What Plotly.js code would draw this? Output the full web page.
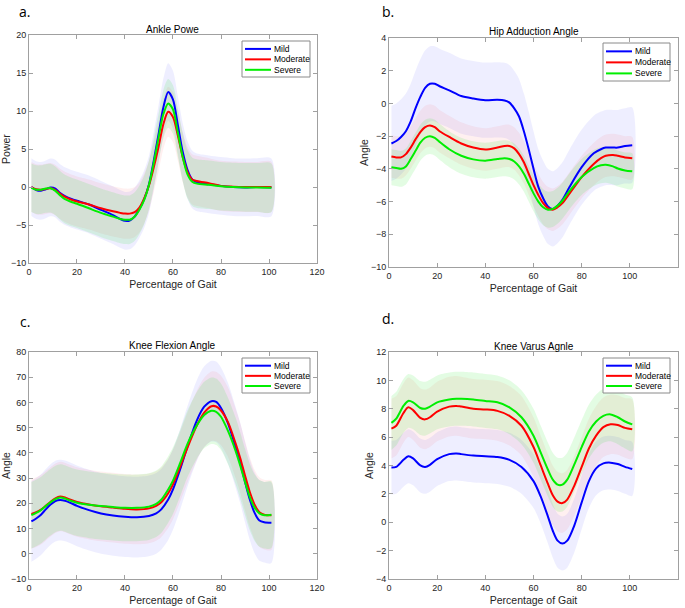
<!DOCTYPE html>
<html>
<head>
<meta charset="utf-8">
<script src="https://cdn.plot.ly/plotly-3.0.1.min.js"></script>
<style>html,body{margin:0;padding:0;background:#fff;}#chart{width:685px;height:608px;}</style>
</head>
<body>
<div id="chart"></div>
<script>
// ---------- data ----------
const seriesNames = ["Mild", "Moderate", "Severe"];
const panelTitles = ["Ankle Powe", "Hip Adduction Angle", "Knee Flexion Angle", "Knee Varus Agnle"];
const panelLabels = ["a.", "b.", "c.", "d."];
const yTitles = ["Power", "Angle", "Angle", "Angle"];
const xTitle = "Percentage of Gait";

// a. Ankle power
const xA = [1,3,5,7,9,11,13,15,18,20,25,30,35,38,40,42,44,46,48,50,52,54,56,58,60,62,64,66,68,70,75,80,85,90,95,101];
const mildA = [0,-0.4,-0.5,-0.3,-0.05,-0.2,-0.8,-1.2,-1.6,-1.8,-2.3,-3.0,-3.7,-4.2,-4.45,-4.4,-3.9,-2.9,-1.6,0.35,3.5,7.0,10.5,12.5,11.5,8.2,4.7,2.3,1.0,0.6,0.35,0.15,0.0,-0.05,0.0,-0.05];
const moderateA = [0,-0.3,-0.35,-0.25,-0.15,-0.4,-0.9,-1.3,-1.7,-1.9,-2.3,-2.8,-3.2,-3.4,-3.5,-3.5,-3.3,-2.7,-1.5,0.2,2.6,5.3,8.3,9.9,9.2,6.8,4.0,2.0,1.0,0.8,0.5,0.15,0.05,0,0,0];
const severeA = [-0.1,-0.35,-0.35,-0.2,-0.15,-0.5,-1.1,-1.6,-2.0,-2.2,-2.8,-3.4,-3.9,-4.2,-4.3,-4.3,-3.9,-3.0,-1.7,0.3,3.2,6.5,9.6,11.0,10.2,7.2,4.0,1.7,0.7,0.45,0.3,0.1,0.0,-0.05,-0.05,-0.1];
const sdA = [3.8, 3.3, 3.2];

// b. Hip adduction angle
const xB = [1,3,5,7,9,11,13,15,17,19,21,25,30,35,40,45,48,50,52,54,56,58,60,62,64,66,68,70,72,75,80,85,88,90,93,95,98,101];
const mildB = [-2.45,-2.3,-2.05,-1.7,-1.1,-0.3,0.4,0.95,1.2,1.2,1.05,0.8,0.45,0.3,0.2,0.22,0.18,0.05,-0.3,-0.8,-1.7,-2.8,-4.0,-5.1,-5.8,-6.3,-6.45,-6.25,-5.9,-5.1,-3.9,-3.05,-2.8,-2.7,-2.7,-2.7,-2.6,-2.55];
const moderateB = [-3.25,-3.3,-3.3,-3.1,-2.7,-2.2,-1.75,-1.45,-1.35,-1.45,-1.7,-2.05,-2.45,-2.7,-2.82,-2.7,-2.6,-2.6,-2.75,-3.1,-3.6,-4.3,-5.0,-5.6,-6.1,-6.4,-6.5,-6.35,-6.1,-5.5,-4.5,-3.7,-3.35,-3.2,-3.15,-3.2,-3.3,-3.35];
const severeB = [-3.9,-3.95,-4.0,-3.85,-3.4,-2.9,-2.4,-2.1,-2.0,-2.1,-2.35,-2.8,-3.2,-3.42,-3.5,-3.4,-3.35,-3.4,-3.55,-3.85,-4.3,-4.9,-5.5,-6.0,-6.35,-6.5,-6.45,-6.25,-5.95,-5.35,-4.5,-3.95,-3.78,-3.75,-3.85,-3.98,-4.1,-4.15];
const sdB = [2.3, 1.3, 1.1];

// c. Knee flexion angle
const xC = [1,3,5,7,9,11,13,15,17,20,25,30,35,40,45,50,53,55,58,60,63,66,70,73,76,78,80,83,86,88,90,92,94,96,98,101];
const mildC = [12.8,14.0,15.5,17.6,19.5,20.9,21.3,21.0,20.3,19.0,17.3,16.0,15.2,14.7,14.5,15.0,16.0,17.5,21.5,25.5,33.5,42.5,53,58.3,60.5,60.2,57.8,51.5,42.5,36,28.5,21.5,16.2,13.2,12.5,12.3];
const moderateC = [15.8,16.5,17.5,19.0,20.6,22.0,22.7,22.3,21.5,20.5,19.5,18.8,18.3,17.8,17.6,18.0,19.0,20.3,24.0,27.5,34.5,42,51,56,58.5,58.4,56.8,52,44,38,31,24.5,19.5,16.5,15.5,15.3];
const severeC = [15.3,16.2,17.3,18.9,20.4,21.7,22.3,21.9,21.1,20.2,19.4,18.9,18.5,18.2,18.2,18.7,19.8,21.3,25.5,29.0,36.0,43.5,51.0,55.0,56.7,56.3,54.3,48.5,41,35,28.5,22.5,18.3,16,15.3,15.5];
const sdC = [16, 13.8, 13.2];

// d. Knee varus angle
const xD = [1,3,6,8,10,13,15,17,20,25,28,30,35,40,45,50,55,60,63,66,68,70,72,74,77,80,83,86,89,92,95,98,101];
const mildD = [3.85,3.9,4.4,4.65,4.5,4.0,3.9,4.05,4.45,4.8,4.85,4.8,4.7,4.65,4.6,4.4,3.9,2.9,1.8,0.4,-0.6,-1.3,-1.5,-1.3,-0.2,1.4,2.9,3.8,4.15,4.2,4.1,3.9,3.75];
const moderateD = [6.6,6.8,7.7,8.1,7.9,7.35,7.25,7.4,7.8,8.15,8.2,8.15,8.0,7.95,7.85,7.5,6.8,5.3,4.0,2.7,1.9,1.45,1.35,1.6,2.6,3.9,5.2,6.1,6.7,6.9,6.85,6.65,6.55];
const severeD = [7.0,7.3,8.2,8.55,8.45,8.05,8.0,8.15,8.45,8.65,8.7,8.7,8.65,8.55,8.45,8.1,7.4,6.1,4.9,3.7,3.0,2.65,2.65,3.0,4.1,5.3,6.4,7.1,7.5,7.6,7.4,7.1,6.9];
const sdD = [1.9, 2.1, 1.9];

const yRanges = [[-10,20],[-10,4],[-10,80],[-4,12]];
const yDticks = [5, 2, 10, 2];

// ---------- styling ----------
const W = 685, H = 608;
const lineColors = ["#0000ff", "#ff0000", "#00ee00"];
const bandColors = ["rgba(0,0,255,0.065)", "rgba(255,0,0,0.06)", "rgba(0,230,0,0.11)"];
const font = "Liberation Sans, Arial, Helvetica, sans-serif";

const panels = [
  {x: xA, ys: [mildA, moderateA, severeA], sd: sdA},
  {x: xB, ys: [mildB, moderateB, severeB], sd: sdB},
  {x: xC, ys: [mildC, moderateC, severeC], sd: sdC},
  {x: xD, ys: [mildD, moderateD, severeD], sd: sdD}
];

const xDomains = [[0.0423,0.4628],[0.5679,0.9898],[0.0423,0.4628],[0.5679,0.9898]];
const yDomains = [[0.5674,0.9424],[0.5609,0.9375],[0.0477,0.4211],[0.0477,0.4211]];
const yStandoff = [4, 0, 4, 0];

const traces = [];
panels.forEach((p, pi) => {
  const sfx = pi === 0 ? "" : String(pi + 1);
  p.ys.forEach((ys, si) => {
    const up = ys.map(v => v + p.sd[si]);
    const lo = ys.map(v => v - p.sd[si]);
    traces.push({
      type: "scatter", mode: "lines",
      x: p.x.concat(p.x.slice().reverse()),
      y: up.concat(lo.slice().reverse()),
      fill: "toself", fillcolor: bandColors[si],
      line: {width: 0, shape: "spline", smoothing: 0.8},
      xaxis: "x" + sfx, yaxis: "y" + sfx,
      showlegend: false, hoverinfo: "skip"
    });
  });
  p.ys.forEach((ys, si) => {
    traces.push({
      type: "scatter", mode: "lines",
      x: p.x, y: ys, name: seriesNames[si],
      line: {color: lineColors[si], width: 2, shape: "spline", smoothing: 0.8},
      xaxis: "x" + sfx, yaxis: "y" + sfx,
      showlegend: false
    });
  });
});

const axisCommon = {
  showline: true, linecolor: "#a0a0a0", linewidth: 1, mirror: "ticks",
  ticks: "inside", ticklen: 4, tickcolor: "#a0a0a0", tickwidth: 1,
  showgrid: false, zeroline: false, automargin: false,
  tickfont: {family: font, size: 9, color: "#262626"}
};

const layout = {
  width: W, height: H,
  margin: {l: 0, r: 0, t: 0, b: 0},
  paper_bgcolor: "#ffffff", plot_bgcolor: "#ffffff",
  font: {family: font, color: "#262626"},
  annotations: [], shapes: [], showlegend: false
};

// legend boxes in pixels: [left, top, width, height]
const legendBoxes = [[242,41,68,36],[603,43,67,38],[242,358,68,35],[603,358,67,35]];
const titleY = [29, 32, 345, 346];
const labelPos = [[25,0],[388,0],[25,310],[388,307]];
const px = v => v / W;
const py = v => 1 - v / H;

for (let i = 0; i < 4; i++) {
  const sfx = i === 0 ? "" : String(i + 1);
  layout["xaxis" + sfx] = Object.assign({}, axisCommon, {
    domain: xDomains[i], range: [0,120], dtick: 20, anchor: "y" + sfx,
    title: {text: xTitle, font: {family: font, size: 10.5, color: "#262626"}, standoff: 4}
  });
  layout["yaxis" + sfx] = Object.assign({}, axisCommon, {
    domain: yDomains[i], range: yRanges[i], dtick: yDticks[i], anchor: "x" + sfx,
    title: {text: yTitles[i], font: {family: font, size: 10.5, color: "#262626"}, standoff: yStandoff[i]}
  });
  layout.annotations.push({
    text: panelTitles[i], xref: "paper", yref: "paper",
    x: (xDomains[i][0] + xDomains[i][1]) / 2, y: py(titleY[i]),
    xanchor: "center", yanchor: "middle", showarrow: false,
    font: {family: font, size: 10, color: "#000000"}
  });
  layout.annotations.push({
    text: panelLabels[i], xref: "paper", yref: "paper",
    x: px(labelPos[i][0]), y: py(labelPos[i][1]),
    xanchor: "center", yanchor: "top", showarrow: false,
    font: {family: "Open Sans, sans-serif", size: 14, color: "#000000"}
  });
  // legend
  const [lx, ly, lw, lh] = legendBoxes[i];
  layout.shapes.push({
    type: "rect", xref: "paper", yref: "paper", layer: "above",
    x0: px(lx), x1: px(lx + lw), y0: py(ly), y1: py(ly + lh),
    fillcolor: "#ffffff", line: {color: "#8a8a8a", width: 1}
  });
  seriesNames.forEach((nm, si) => {
    const rowY = ly + lh * (0.22 + 0.29 * si);
    layout.shapes.push({
      type: "line", xref: "paper", yref: "paper", layer: "above",
      x0: px(lx + 3), x1: px(lx + 29), y0: py(rowY), y1: py(rowY),
      line: {color: lineColors[si], width: 2}
    });
    layout.annotations.push({
      text: nm, xref: "paper", yref: "paper",
      x: px(lx + 30), y: py(rowY), xanchor: "left", yanchor: "middle",
      showarrow: false, font: {family: font, size: 8.5, color: "#000000"}
    });
  });
}

Plotly.newPlot("chart", traces, layout, {staticPlot: true, displayModeBar: false});
</script>
</body>
</html>
